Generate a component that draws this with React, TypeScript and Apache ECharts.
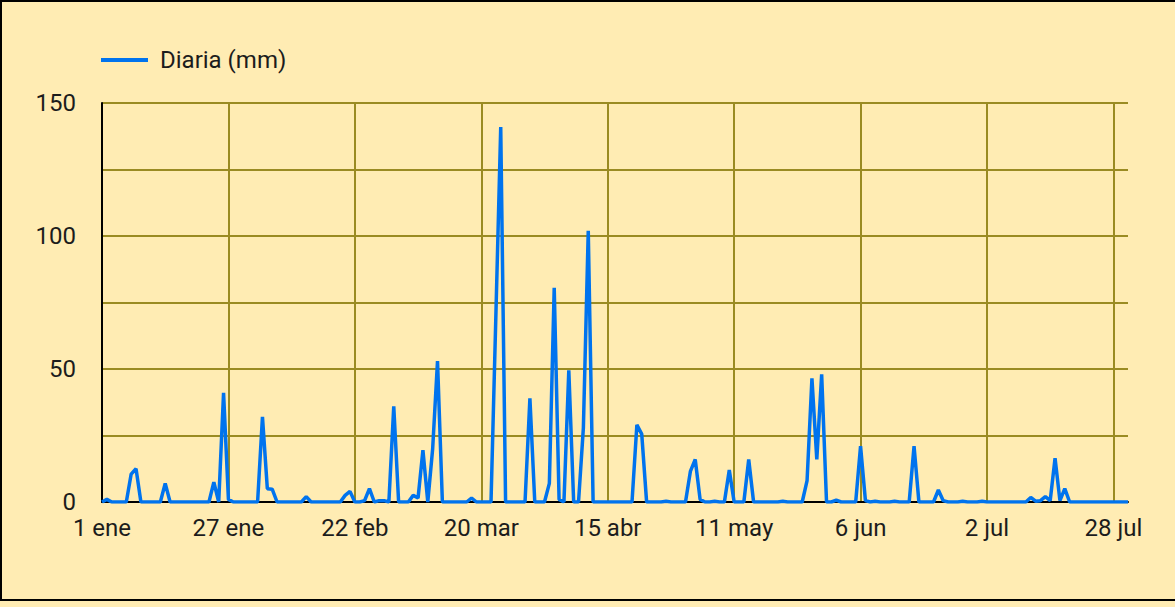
import React, { useEffect, useRef } from "react";
import * as echarts from "echarts";

const monthNames = ["ene", "feb", "mar", "abr", "may", "jun", "jul"];
const monthLengths = [31, 28, 31, 30, 31, 30, 31];

const eneValues = [0, 1, 0, 0, 0, 0, 10.5, 12.5, 0, 0, 0, 0, 0, 7, 0, 0, 0, 0, 0, 0, 0, 0, 0, 7.5, 0, 41, 1, 0, 0, 0, 0];
const febValues = [0, 0, 32, 5, 4.8, 0, 0, 0, 0, 0, 0, 2, 0, 0, 0, 0, 0, 0, 0, 2.5, 4, 0, 0, 0.5, 5, 0, 0.5, 0.5];
const marValues = [0, 36, 0, 0, 0, 2.5, 1.5, 19.5, 0, 20, 53, 0, 0, 0, 0, 0, 0, 1.5, 0, 0, 0, 0, 70, 141, 0, 0, 0, 0, 0, 39, 0];
const abrValues = [0, 0, 7, 80.5, 1, 0, 49.5, 0, 0, 28, 102, 0, 0, 0, 0, 0, 0, 0, 0, 0, 29, 25.5, 0, 0, 0, 0, 0.3, 0, 0, 0];
const mayValues = [0, 11.5, 16, 1, 0, 0, 0.3, 0, 0, 12, 0, 0, 0, 16, 0, 0, 0, 0, 0, 0, 0.3, 0, 0, 0, 0, 8, 46.5, 16, 48, 0, 0];
const junValues = [0.7, 0, 0, 0, 0, 21, 0.5, 0, 0.3, 0, 0, 0, 0.3, 0, 0, 0, 21, 0, 0, 0, 0, 4.5, 0.5, 0, 0, 0, 0.3, 0, 0, 0];
const julValues = [0.3, 0, 0, 0, 0, 0, 0, 0, 0, 0, 1.7, 0.3, 0.5, 2, 0.5, 16.5, 0.5, 5, 0, 0, 0, 0, 0, 0, 0, 0, 0, 0, 0, 0, 0];

const seriesName = "Diaria (mm)";

const categories: string[] = [];
monthNames.forEach((m, i) => {
  for (let d = 1; d <= monthLengths[i]; d++) categories.push(`${d} ${m}`);
});
const values = [
  ...eneValues,
  ...febValues,
  ...marValues,
  ...abrValues,
  ...mayValues,
  ...junValues,
  ...julValues,
];

const FONT = "Roboto";
const TEXT = "#1c1c1c";
const GRID = "#9a8b22";
const BG = "#FFECB3";
const LINE = "#0073EE";

export default function App() {
  const ref = useRef<HTMLDivElement>(null);
  useEffect(() => {
    document.body.style.margin = "0";
    document.body.style.background = BG;
    const chart = echarts.init(ref.current!, null, { renderer: "svg" });
    chart.setOption({
      animation: false,
      backgroundColor: BG,
      textStyle: { fontFamily: FONT },
      legend: {
        left: 96,
        top: 43,
        icon: "rect",
        itemWidth: 47,
        itemHeight: 4,
        textStyle: { fontFamily: FONT, fontSize: 24, color: TEXT, padding: [0, 0, 0, 7] },
        data: [seriesName],
      },
      grid: { left: 102, right: 47, top: 103, bottom: 105, containLabel: false },
      xAxis: {
        type: "category",
        data: categories,
        boundaryGap: false,
        axisLine: { lineStyle: { color: "#000", width: 2 } },
        axisTick: { show: false },
        axisLabel: { interval: 25, margin: 14, fontFamily: FONT, fontSize: 24, color: TEXT },
        splitLine: { show: true, interval: 25, lineStyle: { color: GRID, width: 2 } },
      },
      yAxis: {
        type: "value",
        min: 0,
        max: 150,
        interval: 25,
        axisLine: { show: true, lineStyle: { color: "#000", width: 2 } },
        axisTick: { show: false },
        axisLabel: {
          margin: 26,
          fontFamily: FONT,
          fontSize: 24,
          color: TEXT,
          formatter: (v: number) => (v % 50 === 0 ? String(v) : ""),
        },
        splitLine: { show: true, lineStyle: { color: GRID, width: 2 } },
      },
      series: [
        {
          name: seriesName,
          type: "line",
          data: values,
          symbol: "none",
          color: LINE,
          lineStyle: { color: LINE, width: 3.5 },
        },
      ],
    });
    return () => chart.dispose();
  }, []);
  return (
    <div style={{ position: "relative", width: 1175, height: 607, overflow: "hidden", background: BG }}>
      <div ref={ref} style={{ position: "absolute", left: 0, top: 0, width: 1175, height: 607 }} />
      <div
        style={{
          position: "absolute",
          left: 0,
          top: 0,
          width: 1190,
          height: 597,
          border: "2px solid #000",
          pointerEvents: "none",
        }}
      />
    </div>
  );
}
